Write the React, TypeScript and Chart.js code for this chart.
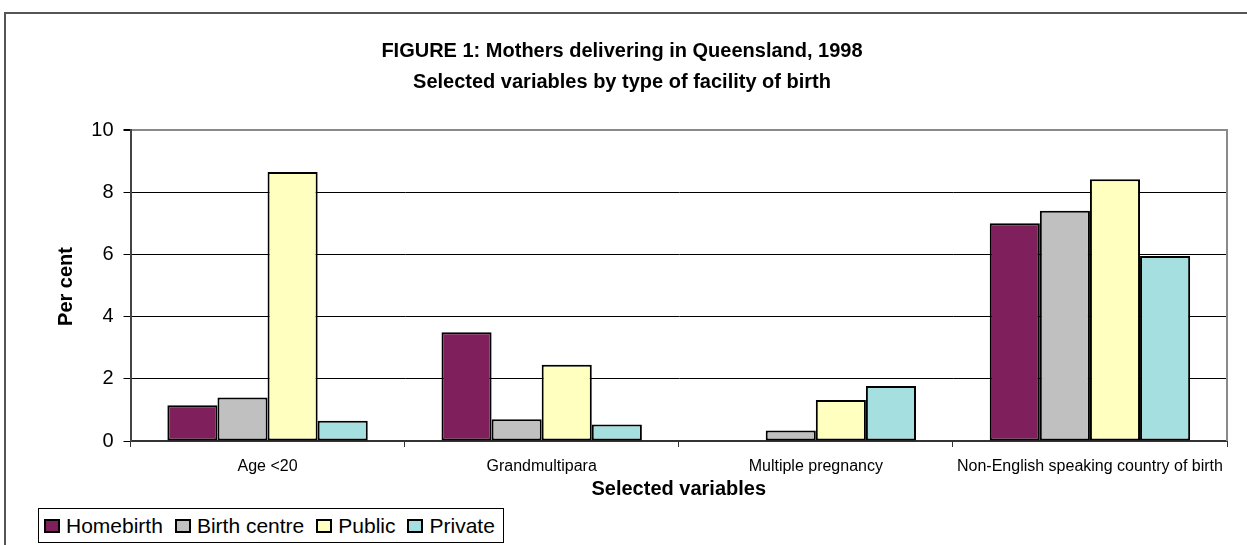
import React, { useEffect, useRef } from 'react';
import { Chart, registerables } from 'chart.js';

Chart.register(...registerables);

const categories = ['Age <20', 'Grandmultipara', 'Multiple pregnancy', 'Non-English speaking country of birth'];
const seriesNames = ['Homebirth', 'Birth centre', 'Public', 'Private'];
const homebirth = [1.15, 3.5, 0, 7.0];
const birthCentre = [1.4, 0.7, 0.34, 7.4];
const publicFacility = [8.65, 2.45, 1.32, 8.42];
const privateFacility = [0.65, 0.53, 1.77, 5.95];
const seriesColors = ['#7f1f5b', '#c0c0c0', '#ffffc0', '#a5dfe0'];
const yMin = 0;
const yMax = 10;
const yStep = 2;
const titleLines = ['FIGURE 1: Mothers delivering in Queensland, 1998', 'Selected variables by type of facility of birth'];
const yAxisTitle = 'Per cent';
const xAxisTitle = 'Selected variables';

const FONT = '"Liberation Sans", Arial, Helvetica, sans-serif';

const decorPlugin = {
  id: 'decor',
  afterDraw(chart: any) {
    const { ctx, chartArea } = chart;
    ctx.save();
    // plot area right border
    ctx.strokeStyle = '#8a8a8a';
    ctx.lineWidth = 2;
    ctx.beginPath();
    ctx.moveTo(chartArea.right, chartArea.top - 1);
    ctx.lineTo(chartArea.right, chartArea.bottom);
    ctx.stroke();

    ctx.fillStyle = '#000';
    ctx.font = `bold 20px ${FONT}`;
    ctx.textAlign = 'center';
    ctx.textBaseline = 'alphabetic';
    ctx.fillText(titleLines[0], 622, 57);
    ctx.fillText(titleLines[1], 622, 88);

    ctx.textBaseline = 'middle';
    ctx.fillText(xAxisTitle, (chartArea.left + chartArea.right) / 2, 489);

    ctx.translate(66.5, 286.5);
    ctx.rotate(-Math.PI / 2);
    ctx.fillText(yAxisTitle, 0, 0);
    ctx.restore();
  },
};

export default function App() {
  const canvasRef = useRef<HTMLCanvasElement | null>(null);

  useEffect(() => {
    if (!canvasRef.current) return;
    const data = [homebirth, birthCentre, publicFacility, privateFacility];
    const chart = new Chart(canvasRef.current, {
      type: 'bar',
      data: {
        labels: categories,
        datasets: seriesNames.map((name, i) => ({
          label: name,
          data: data[i],
          backgroundColor: seriesColors[i],
          borderColor: '#000',
          borderWidth: 2,
          borderSkipped: false,
          categoryPercentage: 0.731,
          barPercentage: 1,
        })),
      },
      options: {
        responsive: false,
        animation: false,
        layout: { padding: { top: 130, right: 20, left: 0, bottom: 0 } },
        plugins: {
          legend: { display: false },
          title: { display: false },
          tooltip: { enabled: false },
        },
        scales: {
          x: {
            grid: {
              display: true,
              drawOnChartArea: false,
              drawTicks: true,
              tickLength: 6,
              color: '#333',
              offset: true,
            },
            border: { color: '#333', width: 2 },
            ticks: {
              font: { family: FONT, size: 16 },
              color: '#000',
              padding: 10,
              maxRotation: 0,
              autoSkip: false,
            },
            afterFit(scale: any) {
              scale.height = 104;
            },
          },
          y: {
            min: yMin,
            max: yMax,
            ticks: {
              stepSize: yStep,
              font: { family: FONT, size: 20 },
              color: '#000',
              padding: 10,
            },
            grid: {
              color: (c: any) => (c.tick && c.tick.value === yMax ? '#8a8a8a' : '#000'),
              lineWidth: (c: any) => (c.tick && c.tick.value === yMax ? 2 : 1),
              tickColor: '#000',
              tickLength: 7,
            },
            border: { color: '#444', width: 2 },
            afterFit(scale: any) {
              scale.width = 130.5;
            },
          },
        },
      },
      plugins: [decorPlugin],
    });
    return () => chart.destroy();
  }, []);

  return (
    <div style={{ position: 'fixed', left: 0, top: 0, width: 1247, height: 545, background: '#fff', overflow: 'hidden' }}>
      <div
        style={{
          position: 'absolute',
          left: 4,
          top: 12,
          width: 1400,
          height: 700,
          borderTop: '2px solid #555',
          borderLeft: '2px solid #555',
          boxSizing: 'border-box',
        }}
      />
      <canvas ref={canvasRef} width={1247} height={545} style={{ position: 'absolute', left: 0, top: 0, width: 1247, height: 545 }} />
      <div
        style={{
          position: 'absolute',
          left: 38,
          top: 508,
          height: 35,
          boxSizing: 'border-box',
          border: '1px solid #000',
          background: '#fff',
          display: 'flex',
          alignItems: 'center',
          padding: '0 8px 0 5px',
          fontFamily: FONT,
          fontSize: 21,
          color: '#000',
          whiteSpace: 'nowrap',
        }}
      >
        {seriesNames.map((name, i) => (
          <div key={name} style={{ display: 'flex', alignItems: 'center', marginRight: i < seriesNames.length - 1 ? 12 : 0 }}>
            <span
              style={{
                display: 'inline-block',
                width: 16,
                height: 14,
                boxSizing: 'border-box',
                border: '2px solid #000',
                background: seriesColors[i],
                marginRight: 6,
              }}
            />
            <span>{name}</span>
          </div>
        ))}
      </div>
    </div>
  );
}
